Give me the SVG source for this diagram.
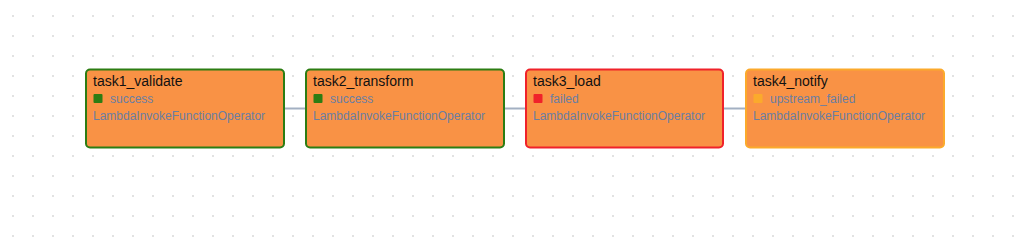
<svg xmlns="http://www.w3.org/2000/svg" width="1024" height="242" viewBox="0 0 1024 242">
  <defs>
    <pattern id="dots" x="12" y="15.5" width="20" height="20" patternUnits="userSpaceOnUse">
      <rect x="0" y="0" width="2" height="1" fill="#c4c4c4"/>
    </pattern>
    <style>
      .node { fill: #f99245; stroke-width: 2; }
      .success { stroke: #2c7d13; }
      .failed { stroke: #f0222a; }
      .upstream { stroke: #fbaa2c; }
      .title { font-family: "Liberation Sans", Arial, sans-serif; font-size: 14px; fill: #111111; }
      .sub { font-family: "Liberation Sans", Arial, sans-serif; font-size: 12px; fill: #6a7ea3; }
      .edge { stroke: #a3b0c2; stroke-width: 2; fill: none; }
    </style>
  </defs>
  <rect width="1024" height="242" fill="#ffffff"/>
  <rect width="1024" height="242" fill="url(#dots)"/>
  <g id="connectors">
    <line class="edge" x1="285" y1="108.5" x2="306" y2="108.5"/>
    <line class="edge" x1="504" y1="108.5" x2="526" y2="108.5"/>
    <line class="edge" x1="724" y1="108.5" x2="746" y2="108.5"/>
  </g>
  <g id="task1_validate">
    <rect class="node success" x="86" y="69.5" width="198" height="78" rx="4"/>
    <text class="title" x="93" y="86">task1_validate</text>
    <rect x="93.5" y="94" width="9" height="9" rx="1" fill="#2c7d13"/>
    <text class="sub" x="110" y="103">success</text>
    <text class="sub" x="93" y="119.5">LambdaInvokeFunctionOperator</text>
  </g>
  <g id="task2_transform">
    <rect class="node success" x="306" y="69.5" width="198" height="78" rx="4"/>
    <text class="title" x="313" y="86">task2_transform</text>
    <rect x="313.5" y="94" width="9" height="9" rx="1" fill="#2c7d13"/>
    <text class="sub" x="330" y="103">success</text>
    <text class="sub" x="313" y="119.5">LambdaInvokeFunctionOperator</text>
  </g>
  <g id="task3_load">
    <rect class="node failed" x="526" y="69.5" width="197" height="78" rx="4"/>
    <text class="title" x="533" y="86">task3_load</text>
    <rect x="533.5" y="94" width="9" height="9" rx="1" fill="#f0222a"/>
    <text class="sub" x="550" y="103">failed</text>
    <text class="sub" x="533" y="119.5">LambdaInvokeFunctionOperator</text>
  </g>
  <g id="task4_notify">
    <rect class="node upstream" x="746" y="69.5" width="198" height="78" rx="4"/>
    <text class="title" x="753" y="86">task4_notify</text>
    <rect x="753.5" y="94" width="9" height="9" rx="1" fill="#fbaa2c"/>
    <text class="sub" x="770" y="103">upstream_failed</text>
    <text class="sub" x="753" y="119.5">LambdaInvokeFunctionOperator</text>
  </g>
</svg>
